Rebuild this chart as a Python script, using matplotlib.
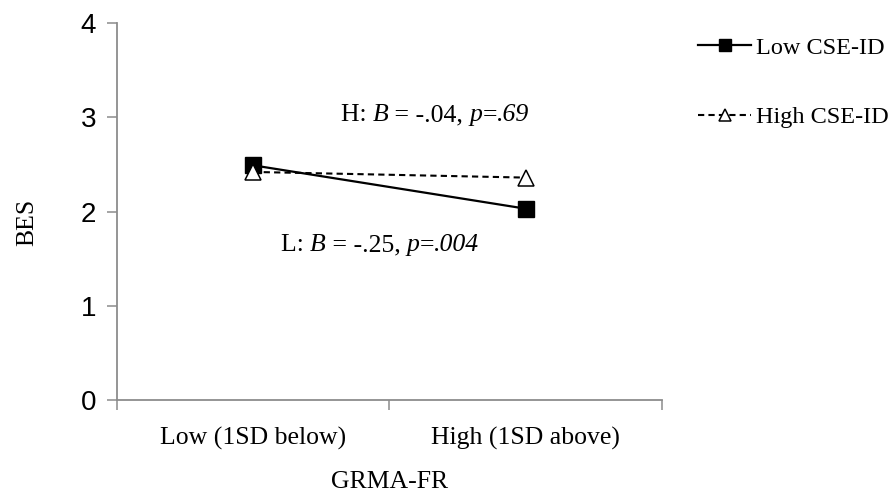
import matplotlib.pyplot as plt
from matplotlib.transforms import offset_copy

plt.rcParams["font.family"] = "Liberation Serif"

# simple slopes of BES on GRMA-FR
x_labels = ["Low (1SD below)", "High (1SD above)"]
low_cse = [2.49, 2.03]
high_cse = [2.42, 2.36]
series_names = ["Low CSE-ID", "High CSE-ID"]
y_ticks = [0, 1, 2, 3, 4]

# (text, italic) runs for the slope notes
note_h = [("H: ", False), ("B", True), (" = -.04, ", False), ("p", True), ("=", False), (".69", True)]
note_l = [("L: ", False), ("B", True), (" = -.25, ", False), ("p", True), ("=", False), (".004", True)]

AXIS_GREY = "#8c8c8c"
TEXT_SIZE = 18.5


def rich_text(ax, x, y, runs, size):
    """Draw runs of upright/italic text centred on (x, y) in data coords."""
    renderer = ax.figure.canvas.get_renderer()
    widths = []
    for s, italic in runs:
        t = ax.text(0, 0, s, fontsize=size, style="italic" if italic else "normal")
        widths.append(t.get_window_extent(renderer).width)
        t.remove()
    total = sum(widths)
    offset = -total / 2
    for (s, italic), w in zip(runs, widths):
        tr = offset_copy(ax.transData, fig=ax.figure, x=offset * 72 / ax.figure.dpi,
                         y=0, units="points")
        ax.text(x, y, s, fontsize=size, style="italic" if italic else "normal",
                transform=tr, ha="left", va="center")
        offset += w


fig = plt.figure(figsize=(8.96, 4.93), dpi=100)
ax = fig.add_axes([0.1306, 0.1886, 0.6082, 0.7647])

xs = [0.5, 1.5]
ax.plot(xs, low_cse, color="black", linewidth=1.6, marker="s",
        markersize=11, markerfacecolor="black", markeredgecolor="black",
        label=series_names[0], zorder=3)
ax.plot(xs, high_cse, color="black", linewidth=1.5, linestyle=(0, (3, 2)),
        marker="^", markersize=12, markerfacecolor="white",
        markeredgecolor="black", markeredgewidth=1.1,
        label=series_names[1], zorder=4)

ax.set_xlim(0, 2)
ax.set_ylim(0, 4)

for side in ("top", "right"):
    ax.spines[side].set_visible(False)
for side in ("left", "bottom"):
    ax.spines[side].set_color(AXIS_GREY)
    ax.spines[side].set_linewidth(1.3)

ax.set_yticks(y_ticks)
ax.set_yticklabels([str(t) for t in y_ticks], family="Liberation Sans", fontsize=20)
ax.tick_params(axis="y", direction="out", length=7, width=1.1, color=AXIS_GREY, pad=8)

# category boundaries get ticks, names sit between them
ax.set_xticks([0, 1, 2])
ax.set_xticklabels([])
ax.tick_params(axis="x", which="major", direction="out", length=7, width=1.1, color=AXIS_GREY)
ax.set_xticks(xs, minor=True)
ax.set_xticklabels(x_labels, minor=True, fontsize=TEXT_SIZE)
ax.tick_params(axis="x", which="minor", length=0, pad=19)

ax.set_ylabel("BES", fontsize=TEXT_SIZE)
ax.yaxis.set_label_coords(-0.145, 0.47)
ax.set_xlabel("GRMA-FR", fontsize=TEXT_SIZE)
ax.xaxis.set_label_coords(0.5, -0.187)

rich_text(ax, 1.167, 3.02, note_h, TEXT_SIZE)
rich_text(ax, 0.965, 1.64, note_l, TEXT_SIZE)

fig.legend(loc="upper left", bbox_to_anchor=(0.768, 0.945), frameon=False,
           fontsize=17.5, handlelength=2.2, handletextpad=0.2,
           labelspacing=1.95, markerscale=0.75, borderaxespad=0)

fig.savefig("out.png", dpi=100)
